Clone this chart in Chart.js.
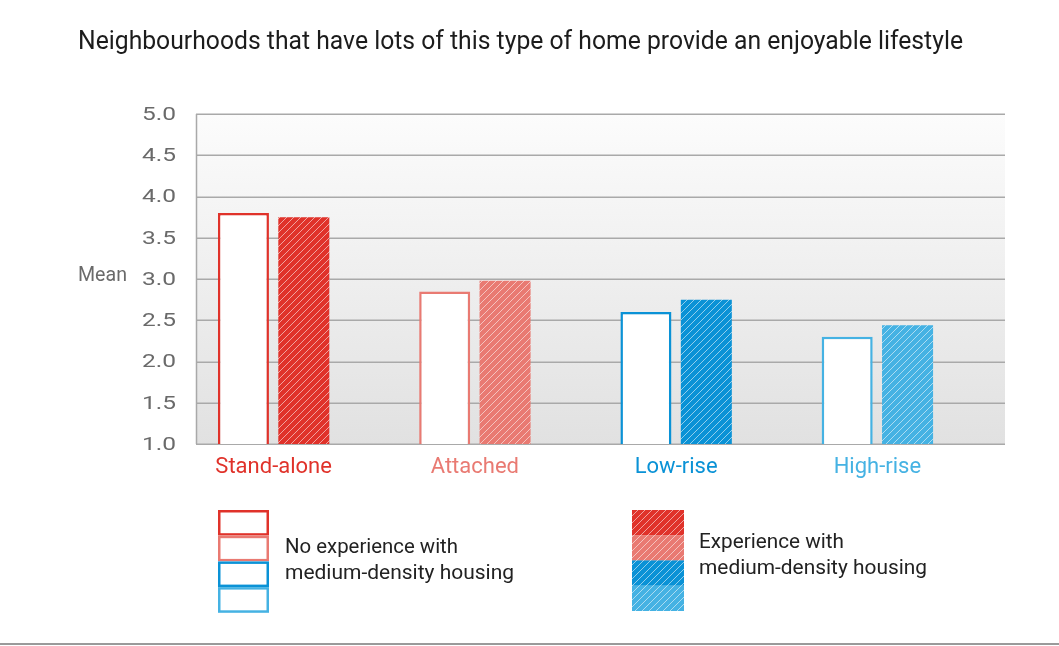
<!DOCTYPE html>
<html>
<head>
<meta charset="utf-8">
<script src="https://cdn.jsdelivr.net/npm/chart.js@4.4.1/dist/chart.umd.min.js"></script>
<style>
  html, body { margin: 0; padding: 0; background: #ffffff; }
  #wrap { width: 1059px; height: 646px; position: relative; }
</style>
</head>
<body>
<div id="wrap"><canvas id="c" width="1059" height="646"></canvas></div>
<script>
// ---- data ----
const chartTitle = 'Neighbourhoods that have lots of this type of home provide an enjoyable lifestyle';
const categories = ['Stand-alone', 'Attached', 'Low-rise', 'High-rise'];
const noExperience = [3.80, 2.85, 2.60, 2.30];
const withExperience = [3.75, 2.98, 2.75, 2.44];
const yTickValues = [1.0, 1.5, 2.0, 2.5, 3.0, 3.5, 4.0, 4.5, 5.0];
const yTickLabels = ['1.0', '1.5', '2.0', '2.5', '3.0', '3.5', '4.0', '4.5', '5.0'];
const yAxisTitle = 'Mean';
const seriesNames = ['No experience with\nmedium-density housing', 'Experience with\nmedium-density housing'];
const categoryColors = ['#e0322a', '#e97a72', '#0a92d6', '#45b2e3'];

// ---- styling helpers ----
const FONT = 'Roboto, "Open Sans", sans-serif';

function hatch(color) {
  const s = 7;
  const c = document.createElement('canvas');
  c.width = s; c.height = s;
  const g = c.getContext('2d');
  g.fillStyle = color;
  g.fillRect(0, 0, s, s);
  g.strokeStyle = 'rgba(255,255,255,0.55)';
  g.lineWidth = 1;
  g.beginPath();
  g.moveTo(-1, s + 1); g.lineTo(s + 1, -1);
  g.moveTo(-1, 1); g.lineTo(1, -1);
  g.moveTo(s - 1, s + 1); g.lineTo(s + 1, s - 1);
  g.stroke();
  return g.createPattern(c, 'repeat');
}
const hatchFills = categoryColors.map(hatch);

function fitText(ctx, text, x, y, width, font) {
  ctx.save();
  ctx.font = font;
  const w = ctx.measureText(text).width;
  const sx = width / w;
  ctx.translate(x, y);
  ctx.scale(sx, 1);
  ctx.fillText(text, 0, 0);
  ctx.restore();
}

const decor = {
  id: 'decor',
  beforeDatasetsDraw(chart) {
    const { ctx, chartArea, scales } = chart;
    const y = scales.y;
    const left = chartArea.left + 23;
    const right = chartArea.right + 27;
    const top = y.getPixelForValue(5);
    const bottom = y.getPixelForValue(1);
    ctx.save();
    const grad = ctx.createLinearGradient(0, top, 0, bottom);
    grad.addColorStop(0, '#fcfcfc');
    grad.addColorStop(1, '#e1e1e1');
    ctx.fillStyle = grad;
    ctx.fillRect(left, top, right - left, bottom - top);
    ctx.strokeStyle = '#a9a9a9';
    ctx.lineWidth = 1.5;
    yTickValues.forEach(v => {
      const py = Math.round(y.getPixelForValue(v)) + 0.25;
      ctx.beginPath();
      ctx.moveTo(left, py);
      ctx.lineTo(right, py);
      ctx.stroke();
    });
    ctx.beginPath();
    ctx.moveTo(left + 0.5, top);
    ctx.lineTo(left + 0.5, bottom);
    ctx.stroke();
    // y tick labels
    ctx.fillStyle = '#6a6a6a';
    ctx.textAlign = 'left';
    ctx.textBaseline = 'middle';
    yTickValues.forEach((v, i) => {
      fitText(ctx, yTickLabels[i], left - 54, y.getPixelForValue(v) + 1, 34, '19px ' + FONT);
    });
    fitText(ctx, yAxisTitle, 78, y.getPixelForValue(3.0) - 3, 49, '20px ' + FONT);
    ctx.restore();
  },
  afterDraw(chart) {
    const { ctx } = chart;
    ctx.save();
    // title
    ctx.fillStyle = '#1c1c1c';
    ctx.textBaseline = 'alphabetic';
    ctx.textAlign = 'left';
    fitText(ctx, chartTitle, 78, 49, 885, '25px ' + FONT);

    // legend: no experience swatches
    const sw = 51, sh = 25.7;
    categoryColors.forEach((col, i) => {
      const x = 218, yy = 510 + i * sh;
      ctx.fillStyle = '#ffffff';
      ctx.fillRect(x, yy, sw, sh);
      ctx.strokeStyle = col;
      ctx.lineWidth = 2.5;
      ctx.strokeRect(x + 1.25, yy + 1.25, sw - 2.5, sh - 2.5);
    });
    // legend: experience swatches
    categoryColors.forEach((col, i) => {
      const x = 632, yy = 510 + i * 25.2;
      ctx.fillStyle = hatchFills[i];
      ctx.fillRect(x, yy, 52, 25.4);
    });
    ctx.fillStyle = '#222222';
    ctx.textBaseline = 'middle';
    const l1 = seriesNames[0].split('\n');
    fitText(ctx, l1[0], 285, 548, 173, '20px ' + FONT);
    fitText(ctx, l1[1], 285, 574, 229, '20px ' + FONT);
    const l2 = seriesNames[1].split('\n');
    fitText(ctx, l2[0], 699, 543, 145, '20px ' + FONT);
    fitText(ctx, l2[1], 699, 569, 228, '20px ' + FONT);

    // bottom frame line
    ctx.fillStyle = '#9a9a9a';
    ctx.fillRect(0, 643, 1059, 2);
    ctx.restore();
  }
};

new Chart(document.getElementById('c'), {
  type: 'bar',
  data: {
    labels: categories,
    datasets: [
      {
        label: seriesNames[0],
        data: noExperience,
        backgroundColor: '#ffffff',
        borderColor: categoryColors,
        borderWidth: 2.5,
        borderSkipped: false,
        barPercentage: 0.845,
        categoryPercentage: 0.6
      },
      {
        label: seriesNames[1],
        data: withExperience,
        backgroundColor: hatchFills,
        borderWidth: 0,
        barPercentage: 0.845,
        categoryPercentage: 0.6
      }
    ]
  },
  options: {
    responsive: false,
    animation: false,
    layout: { padding: { left: 173, right: 81, top: 114, bottom: 162 } },
    plugins: {
      legend: { display: false },
      tooltip: { enabled: false },
      title: { display: false }
    },
    scales: {
      x: {
        grid: { display: false },
        border: { display: false },
        ticks: {
          color: categoryColors,
          font: { family: FONT, size: 22 },
          padding: 2,
          maxRotation: 0
        },
        afterFit(scale) { scale.height = 40; }
      },
      y: {
        display: false,
        min: 1,
        max: 5,
        ticks: { stepSize: 0.5 }
      }
    }
  },
  plugins: [decor]
});
</script>
</body>
</html>
